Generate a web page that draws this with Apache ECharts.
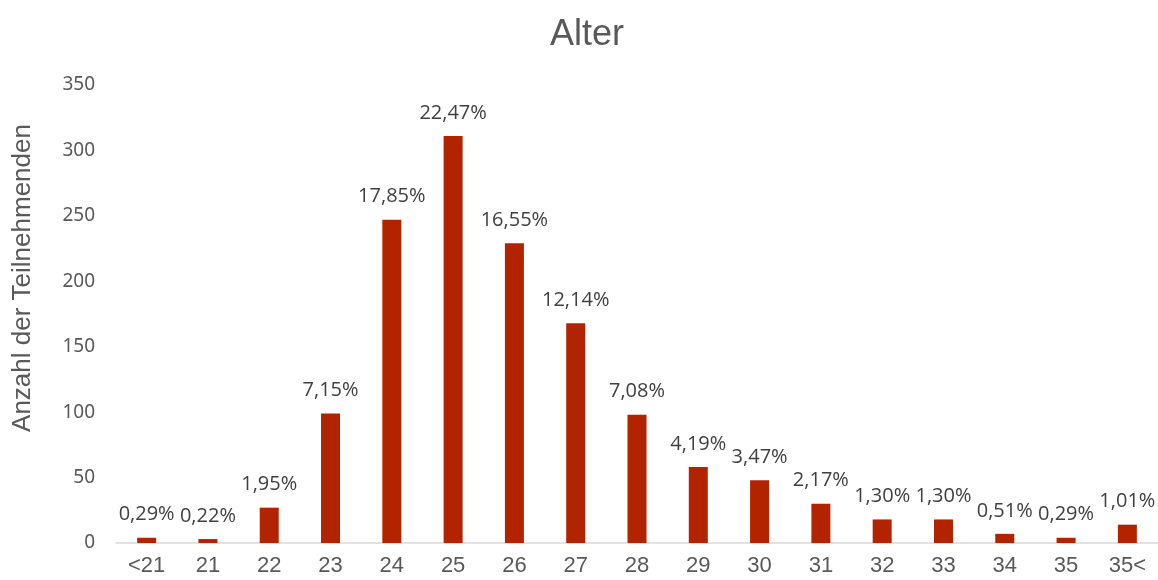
<!DOCTYPE html>
<html>
<head>
<meta charset="utf-8">
<script src="https://cdn.jsdelivr.net/npm/echarts@6/dist/echarts.min.js"></script>
<style>
html,body{margin:0;padding:0;background:#fff;}
#chart{width:1158px;height:580px;}
</style>
</head>
<body>
<div id="chart"></div>
<script>
const categories = ['<21','21','22','23','24','25','26','27','28','29','30','31','32','33','34','35','35<'];
const counts = [4, 3, 27, 99, 247, 311, 229, 168, 98, 58, 48, 30, 18, 18, 7, 4, 14];
const percentLabels = ['0,29%','0,22%','1,95%','7,15%','17,85%','22,47%','16,55%','12,14%','7,08%','4,19%','3,47%','2,17%','1,30%','1,30%','0,51%','0,29%','1,01%'];
const yTicks = { min: 0, max: 350, interval: 50 };

const chart = echarts.init(document.getElementById('chart'));
chart.setOption({
  animation: false,
  backgroundColor: '#ffffff',
  title: {
    text: 'Alter',
    left: 545,
    top: 12,
    textStyle: { fontFamily: 'Liberation Sans', fontSize: 36, fontWeight: 'normal', color: '#595959' }
  },
  grid: { left: 116, right: 0, top: 85, bottom: 37 },
  xAxis: {
    type: 'category',
    data: categories,
    axisLine: { lineStyle: { color: '#d9d9d9', width: 1.5 } },
    axisTick: { show: false },
    axisLabel: { fontFamily: 'Liberation Sans', fontSize: 22, color: '#595959', margin: 12 }
  },
  yAxis: {
    type: 'value',
    min: yTicks.min, max: yTicks.max, interval: yTicks.interval,
    name: 'Anzahl der Teilnehmenden',
    nameLocation: 'middle',
    nameGap: 80,
    nameTextStyle: { fontFamily: 'Liberation Sans', fontSize: 26, color: '#595959', padding: [0, 0, 0, 72] },
    splitLine: { show: false },
    axisLine: { show: false },
    axisTick: { show: false },
    axisLabel: { fontFamily: 'Noto Sans', fontSize: 19, color: '#595959', margin: 21 }
  },
  series: [{
    type: 'bar',
    data: counts,
    barWidth: 19,
    itemStyle: { color: '#b22400' },
    label: {
      show: true,
      position: 'top',
      distance: 13,
      fontFamily: 'Open Sans',
      fontSize: 20,
      color: '#404040',
      formatter: p => percentLabels[p.dataIndex]
    }
  }]
});
</script>
</body>
</html>
